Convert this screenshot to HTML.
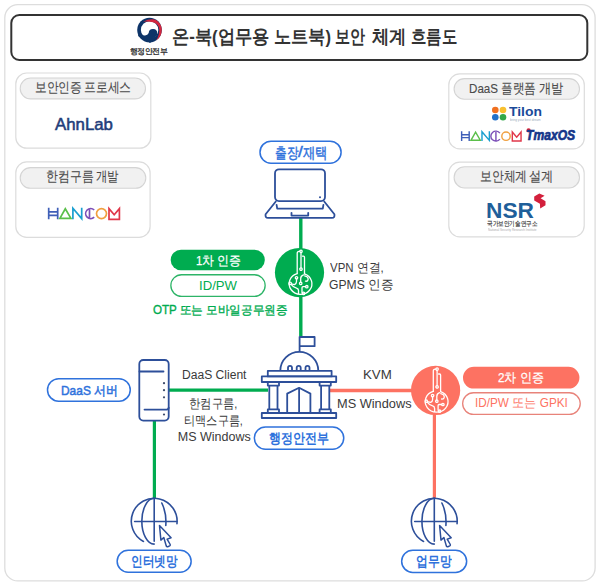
<!DOCTYPE html><html><head><meta charset="utf-8"><style>
html,body{margin:0;padding:0;background:#fff;width:600px;height:586px;overflow:hidden}
body{position:relative;font-family:"Liberation Sans",sans-serif}
.t{position:absolute;white-space:pre;line-height:1;transform-origin:0 0}
</style></head><body>
<svg width="600" height="586" viewBox="0 0 600 586" style="position:absolute;left:0;top:0">
<rect x="4.8" y="4.7" width="590.3" height="576.2" rx="13" fill="#fff" stroke="#dddddd" stroke-width="1.3"/>
<rect x="11.3" y="15" width="576" height="45" rx="8" fill="#fff" stroke="#333" stroke-width="2"/>
<circle cx="149.5" cy="30" r="12.3" fill="#0d3468"/><circle cx="149.6" cy="30" r="8.7" fill="#fff"/><path d="M143.3,21.8 Q149,18.6 154.5,19.6 Q160.5,21.5 161.8,29 Q162,36.5 156,40.6 Q159.6,35 159.2,29.5 Q158.6,23.5 153,22.2 Q148,21.2 143.3,21.8 Z" fill="#d3263e"/><path d="M140.5,30.8 A4.2,3.4 0 0 0 148.7,33 A4.3,4.3 0 1 1 153,37.5 L158,37 L150,43 L138,36 Z" fill="#0d3468"/>
<rect x="15.8" y="73" width="135" height="75.2" rx="11" fill="#fff" stroke="#dcdcdc" stroke-width="1.2"/>
<rect x="15.8" y="161.9" width="134.3" height="75.5" rx="11" fill="#fff" stroke="#dcdcdc" stroke-width="1.2"/>
<rect x="448.8" y="73.9" width="135.5" height="75" rx="11" fill="#fff" stroke="#dcdcdc" stroke-width="1.2"/>
<rect x="448.8" y="162.1" width="135.4" height="74.7" rx="11" fill="#fff" stroke="#dcdcdc" stroke-width="1.2"/>
<rect x="20.2" y="78" width="125.3" height="20.9" rx="10.45" fill="#f1f1f1" stroke="#d4d4d4" stroke-width="1.1"/>
<rect x="20.2" y="167.6" width="125.6" height="20.7" rx="10.35" fill="#f1f1f1" stroke="#d4d4d4" stroke-width="1.1"/>
<rect x="454.1" y="78.6" width="125.4" height="20.6" rx="10.3" fill="#f1f1f1" stroke="#d4d4d4" stroke-width="1.1"/>
<rect x="454.1" y="166.8" width="125.4" height="21.2" rx="10.6" fill="#f1f1f1" stroke="#d4d4d4" stroke-width="1.1"/>
<path d="M300.8,218 V336" stroke="#00ac50" stroke-width="3.4"/>
<path d="M169,390.2 H268" stroke="#00ac50" stroke-width="3.2"/>
<path d="M154.4,420 V499" stroke="#00ac50" stroke-width="3.2"/>
<path d="M330,390.5 H414" stroke="#fd7262" stroke-width="3.4"/>
<path d="M434.4,412 V499" stroke="#fd7262" stroke-width="3.2"/>
<rect x="260" y="141.15" width="81.1" height="22" rx="11.0" fill="#fff" stroke="#2f72dc" stroke-width="1.5"/>
<rect x="47.5" y="378.75" width="82.75" height="22.4" rx="11.2" fill="#fff" stroke="#2f72dc" stroke-width="1.5"/>
<rect x="254.35" y="426.9" width="89.4" height="22.3" rx="11.15" fill="#fff" stroke="#2f72dc" stroke-width="1.5"/>
<rect x="117.15" y="550.2" width="74" height="22.1" rx="11.05" fill="#fff" stroke="#2f72dc" stroke-width="1.5"/>
<rect x="401.65" y="550.2" width="65" height="22.2" rx="11.1" fill="#fff" stroke="#2f72dc" stroke-width="1.5"/>
<rect x="170.7" y="249.7" width="94.1" height="20.6" rx="10.3" fill="#00ac50"/>
<rect x="170.85" y="274.75" width="94.3" height="21.6" rx="10.8" fill="#fff" stroke="#2db467" stroke-width="1.3"/>
<rect x="463" y="366.8" width="116.4" height="21.8" rx="10.9" fill="#fd7262"/>
<rect x="462.65" y="392.75" width="117.6" height="21.7" rx="10.85" fill="#fff" stroke="#e8837a" stroke-width="1.3"/>
<g transform="translate(299.5,272.6)"><circle cx="0" cy="0" r="24.6" fill="#00ac50"/><path fill="none" stroke="#fff" stroke-width="1.3" stroke-linecap="round" stroke-linejoin="round" d="M-2.3,1 V-19.4 Q-2.3,-21.3 -0.4,-21.3 H0.3"/><circle fill="none" stroke="#fff" stroke-width="1.3" stroke-linecap="round" stroke-linejoin="round" cx="1.5" cy="-21.3" r="1.2"/><path fill="none" stroke="#fff" stroke-width="1.3" stroke-linecap="round" stroke-linejoin="round" d="M1.5,-20.1 V-4.7"/><circle fill="none" stroke="#fff" stroke-width="1.3" stroke-linecap="round" stroke-linejoin="round" cx="1.5" cy="-3.5" r="1.2"/><path fill="none" stroke="#fff" stroke-width="1.3" stroke-linecap="round" stroke-linejoin="round" d="M3,-16.4 H4 Q5,-16.4 5,-15.4 V1.2"/><path fill="none" stroke="#fff" stroke-width="1.3" stroke-linecap="round" stroke-linejoin="round" d="M-2.3,1 A11.4 10.6 0 1 0 5,1.2"/><circle fill="none" stroke="#fff" stroke-width="1.3" stroke-linecap="round" stroke-linejoin="round" cx="-3" cy="5.2" r="1.2"/><circle fill="none" stroke="#fff" stroke-width="1.3" stroke-linecap="round" stroke-linejoin="round" cx="-9.3" cy="10.8" r="1.2"/><circle fill="none" stroke="#fff" stroke-width="1.3" stroke-linecap="round" stroke-linejoin="round" cx="1.2" cy="10.8" r="1.2"/><circle fill="none" stroke="#fff" stroke-width="1.3" stroke-linecap="round" stroke-linejoin="round" cx="7.3" cy="14.1" r="1.2"/><circle fill="none" stroke="#fff" stroke-width="1.3" stroke-linecap="round" stroke-linejoin="round" cx="4" cy="20.8" r="1.2"/><path fill="none" stroke="#fff" stroke-width="1.3" stroke-linecap="round" stroke-linejoin="round" d="M-3,6.4 V9 Q-3,11 -5,12 L-8.2,11.2"/><path fill="none" stroke="#fff" stroke-width="1.3" stroke-linecap="round" stroke-linejoin="round" d="M-8.4,11.8 Q-6,15 -3,15.5 Q-1,16 -1,18 V21"/><path fill="none" stroke="#fff" stroke-width="1.3" stroke-linecap="round" stroke-linejoin="round" d="M1.2,9.6 V6 Q1.2,3 4,2.2"/><path fill="none" stroke="#fff" stroke-width="1.3" stroke-linecap="round" stroke-linejoin="round" d="M6.1,14.1 H3.5 Q2.5,14.1 2.5,15.1 V19.8"/><path fill="none" stroke="#fff" stroke-width="1.3" stroke-linecap="round" stroke-linejoin="round" d="M5.2,3.2 Q9,4 8.6,7 Q8.2,9 6,8.6"/></g>
<g transform="translate(435.6,390.4)"><circle cx="0" cy="0" r="24.6" fill="#fd7262"/><path fill="none" stroke="#fff" stroke-width="1.3" stroke-linecap="round" stroke-linejoin="round" d="M-2.3,1 V-19.4 Q-2.3,-21.3 -0.4,-21.3 H0.3"/><circle fill="none" stroke="#fff" stroke-width="1.3" stroke-linecap="round" stroke-linejoin="round" cx="1.5" cy="-21.3" r="1.2"/><path fill="none" stroke="#fff" stroke-width="1.3" stroke-linecap="round" stroke-linejoin="round" d="M1.5,-20.1 V-4.7"/><circle fill="none" stroke="#fff" stroke-width="1.3" stroke-linecap="round" stroke-linejoin="round" cx="1.5" cy="-3.5" r="1.2"/><path fill="none" stroke="#fff" stroke-width="1.3" stroke-linecap="round" stroke-linejoin="round" d="M3,-16.4 H4 Q5,-16.4 5,-15.4 V1.2"/><path fill="none" stroke="#fff" stroke-width="1.3" stroke-linecap="round" stroke-linejoin="round" d="M-2.3,1 A11.4 10.6 0 1 0 5,1.2"/><circle fill="none" stroke="#fff" stroke-width="1.3" stroke-linecap="round" stroke-linejoin="round" cx="-3" cy="5.2" r="1.2"/><circle fill="none" stroke="#fff" stroke-width="1.3" stroke-linecap="round" stroke-linejoin="round" cx="-9.3" cy="10.8" r="1.2"/><circle fill="none" stroke="#fff" stroke-width="1.3" stroke-linecap="round" stroke-linejoin="round" cx="1.2" cy="10.8" r="1.2"/><circle fill="none" stroke="#fff" stroke-width="1.3" stroke-linecap="round" stroke-linejoin="round" cx="7.3" cy="14.1" r="1.2"/><circle fill="none" stroke="#fff" stroke-width="1.3" stroke-linecap="round" stroke-linejoin="round" cx="4" cy="20.8" r="1.2"/><path fill="none" stroke="#fff" stroke-width="1.3" stroke-linecap="round" stroke-linejoin="round" d="M-3,6.4 V9 Q-3,11 -5,12 L-8.2,11.2"/><path fill="none" stroke="#fff" stroke-width="1.3" stroke-linecap="round" stroke-linejoin="round" d="M-8.4,11.8 Q-6,15 -3,15.5 Q-1,16 -1,18 V21"/><path fill="none" stroke="#fff" stroke-width="1.3" stroke-linecap="round" stroke-linejoin="round" d="M1.2,9.6 V6 Q1.2,3 4,2.2"/><path fill="none" stroke="#fff" stroke-width="1.3" stroke-linecap="round" stroke-linejoin="round" d="M6.1,14.1 H3.5 Q2.5,14.1 2.5,15.1 V19.8"/><path fill="none" stroke="#fff" stroke-width="1.3" stroke-linecap="round" stroke-linejoin="round" d="M5.2,3.2 Q9,4 8.6,7 Q8.2,9 6,8.6"/></g>
<rect x="275" y="169.3" width="50" height="31.8" rx="4" fill="none" stroke="#2d4f9a" stroke-width="1.8" stroke-linecap="round" stroke-linejoin="round"/>
<circle cx="320" cy="197.2" r="1" fill="#2d4f9a"/>
<path fill="none" stroke="#2d4f9a" stroke-width="1.8" stroke-linecap="round" stroke-linejoin="round" d="M275.8,201.5 L265.6,214.2 Q265,217.9 268,217.9 H332 Q335,217.9 334.4,214.2 L324.2,201.5"/>
<path fill="none" stroke="#2d4f9a" stroke-width="1.8" stroke-linecap="round" stroke-linejoin="round" d="M276.6,204.8 L277.2,208.6 H322.8 L323.4,204.8"/>
<path fill="none" stroke="#2d4f9a" stroke-width="1.8" stroke-linecap="round" stroke-linejoin="round" d="M291.5,212.8 V215.6 H308.2 V212.8"/>
<rect x="139.3" y="360" width="29.4" height="60.6" rx="4" fill="none" stroke="#2d4f9a" stroke-width="1.8" stroke-linecap="round" stroke-linejoin="round"/>
<path fill="none" stroke="#2d4f9a" stroke-width="1.8" stroke-linecap="round" stroke-linejoin="round" d="M144.5,409.6 H166.6 Q168.7,409.6 168.7,407.6"/>
<path fill="none" stroke="#2d4f9a" stroke-width="1.8" stroke-linecap="round" stroke-linejoin="round" d="M139.5,371.5 H163.5"/>
<circle cx="164" cy="383.2" r="1.1" fill="#3c4a6a"/>
<circle cx="164" cy="390.2" r="1.1" fill="#3c4a6a"/>
<circle cx="164" cy="397.3" r="1.1" fill="#3c4a6a"/>
<circle cx="164" cy="414.5" r="1.1" fill="#3c4a6a"/>
<path fill="none" stroke="#2d4f9a" stroke-width="1.8" stroke-linejoin="round" d="M299.6,351.5 V337 H314.6 V346.2 H299.6"/>
<path fill="none" stroke="#2d4f9a" stroke-width="1.8" stroke-linejoin="round" d="M280.3,370.8 A19 19 0 0 1 318.3,370.8"/>
<path fill="none" stroke="#2d4f9a" stroke-width="1.8" stroke-linejoin="round" d="M288,370.8 V367.8 A2 2 0 0 1 292,367.8 V370.8"/>
<path fill="none" stroke="#2d4f9a" stroke-width="1.8" stroke-linejoin="round" d="M296.7,370.8 V367.8 A2 2 0 0 1 300.7,367.8 V370.8"/>
<path fill="none" stroke="#2d4f9a" stroke-width="1.8" stroke-linejoin="round" d="M305.5,370.8 V367.8 A2 2 0 0 1 309.5,367.8 V370.8"/>
<rect x="267.8" y="370.8" width="63.8" height="5.6" fill="none" stroke="#2d4f9a" stroke-width="1.8" stroke-linejoin="round"/>
<rect x="261.8" y="376.4" width="74.4" height="5.6" fill="none" stroke="#2d4f9a" stroke-width="1.8" stroke-linejoin="round"/>
<path fill="none" stroke="#2d4f9a" stroke-width="1.8" stroke-linejoin="round" d="M267.8,382 V385.6 H269.3 V409.4 H267.8 V413 M279,382 V385.6 H277.5 V409.4 H279 V413 M267.8,385.6 H279 M267.8,409.4 H279"/>
<path fill="none" stroke="#2d4f9a" stroke-width="1.8" stroke-linejoin="round" d="M319.6,382 V385.6 H321.1 V409.4 H319.6 V413 M330.8,382 V385.6 H329.3 V409.4 H330.8 V413 M319.6,385.6 H330.8 M319.6,409.4 H330.8"/>
<path fill="none" stroke="#2d4f9a" stroke-width="1.8" stroke-linejoin="round" d="M287.2,413 V393.6 L299.1,387.8 L310.4,393.6 V413 M299.1,387.8 V413"/>
<rect x="261.8" y="413" width="74.4" height="5" fill="none" stroke="#2d4f9a" stroke-width="1.8" stroke-linejoin="round"/>
<path fill="none" stroke="#2d4f9a" stroke-width="1.6" stroke-linecap="round" stroke-linejoin="round" d="M176.97,523.59 A22.9 22.9 0 1 0 143.45,541.42"/><path fill="none" stroke="#2d4f9a" stroke-width="1.6" stroke-linecap="round" stroke-linejoin="round" d="M154.2,498.30000000000007 V541.2"/><path fill="none" stroke="#2d4f9a" stroke-width="1.6" stroke-linecap="round" stroke-linejoin="round" d="M134.6,521.5 H176.7"/><path fill="none" stroke="#2d4f9a" stroke-width="1.6" stroke-linecap="round" stroke-linejoin="round" d="M154.2,498.30000000000007 A12.4 22.9 0 0 0 154.2,544.1"/><path fill="none" stroke="#2d4f9a" stroke-width="1.6" stroke-linecap="round" stroke-linejoin="round" d="M161.79999999999998,503.00000000000006 Q166.7,513.2 165.79999999999998,525.4000000000001"/><path fill="#fff" stroke="#2d4f9a" stroke-width="1.5" stroke-linejoin="round" d="M159.5,525.5 L160.9,540.1 L163.8,537.5 L166.3,546.1 Q166.8,547.0 167.7,546.7 L169.7,545.9 Q170.5,545.4 170.2,544.5 L167.1,539.1 L171.1,537.7 Z"/>
<path fill="none" stroke="#2d4f9a" stroke-width="1.6" stroke-linecap="round" stroke-linejoin="round" d="M457.07,523.59 A22.9 22.9 0 1 0 423.55,541.42"/><path fill="none" stroke="#2d4f9a" stroke-width="1.6" stroke-linecap="round" stroke-linejoin="round" d="M434.3,498.30000000000007 V541.2"/><path fill="none" stroke="#2d4f9a" stroke-width="1.6" stroke-linecap="round" stroke-linejoin="round" d="M414.7,521.5 H456.8"/><path fill="none" stroke="#2d4f9a" stroke-width="1.6" stroke-linecap="round" stroke-linejoin="round" d="M434.3,498.30000000000007 A12.4 22.9 0 0 0 434.3,544.1"/><path fill="none" stroke="#2d4f9a" stroke-width="1.6" stroke-linecap="round" stroke-linejoin="round" d="M441.90000000000003,503.00000000000006 Q446.8,513.2 445.90000000000003,525.4000000000001"/><path fill="#fff" stroke="#2d4f9a" stroke-width="1.5" stroke-linejoin="round" d="M439.6,525.5 L441.0,540.1 L443.90000000000003,537.5 L446.40000000000003,546.1 Q446.90000000000003,547.0 447.8,546.7 L449.8,545.9 Q450.6,545.4 450.3,544.5 L447.20000000000005,539.1 L451.20000000000005,537.7 Z"/>
<g fill="none" stroke-width="1.70" stroke-linejoin="miter"><path stroke="#3f5fb8" d="M48.70,207.80 V219.30 M57.70,207.80 V219.30 M48.70,211.80 H57.70 M48.70,215.30 H57.70"/><path stroke="#5bbf4a" d="M59.90,218.40 L65.30,208.80 L70.90,218.40 Z"/><path stroke="#1a9fd0" d="M72.90,219.30 V208.30 L81.70,218.60 V207.80"/><path stroke="#7c4fb8" d="M94.20,210.00 A5 5 0 1 0 94.20,217.10 M89.50,208.60 V218.60"/><circle stroke="#f0a040" cx="101.50" cy="213.60" r="5.00"/><path stroke="#e0374a" d="M109.00,219.30 V208.60 L114.20,214.80 L119.40,208.60 V219.30 Z"/></g>
<g fill="none" stroke-width="1.43" stroke-linejoin="miter"><path stroke="#3f5fb8" d="M461.64,131.30 V140.96 M469.20,131.30 V140.96 M461.64,134.66 H469.20 M461.64,137.60 H469.20"/><path stroke="#5bbf4a" d="M471.05,140.21 L475.59,132.14 L480.29,140.21 Z"/><path stroke="#1a9fd0" d="M481.98,140.96 V131.72 L489.37,140.38 V131.30"/><path stroke="#7c4fb8" d="M499.87,133.15 A5 5 0 1 0 499.87,139.11 M495.92,131.97 V140.38"/><circle stroke="#f0a040" cx="506.01" cy="136.17" r="4.20"/><path stroke="#e0374a" d="M512.31,140.96 V131.97 L516.68,137.18 L521.05,131.97 V140.96 Z"/></g>
<circle cx="495.3" cy="110" r="3.3" fill="#f07020"/>
<circle cx="503" cy="110" r="3.3" fill="#f8c030"/>
<circle cx="495.3" cy="117.3" r="3.3" fill="#2070c8"/>
<circle cx="503" cy="117.3" r="3.3" fill="#30a848"/>
<circle cx="528.6" cy="130.4" r="2.1" fill="#e02030"/>
<path d="M539.3,193.4 L544.6,195.8 L540.6,198.3 L545.5,201.2 L545.5,205.2 L540.2,208.6 L539.9,203.8 L534.2,200.6 L534.2,196.5 Z" fill="#d3203c"/>
</svg>
<div class="t" style="left:172.29px;top:28.4px;font-size:18.5px;font-weight:700;color:#333;transform:scale(0.9076,1.0)">온-북(업무용</div>
<div class="t" style="left:273.6px;top:28.4px;font-size:18.5px;font-weight:700;color:#333;transform:scale(0.9016,1.0)">노트북)</div>
<div class="t" style="left:334.61px;top:28.4px;font-size:18.5px;font-weight:700;color:#333;transform:scale(0.7919,1.0)">보안</div>
<div class="t" style="left:371.99px;top:28.4px;font-size:18.5px;font-weight:700;color:#333;transform:scale(0.9114,1.0)">체계</div>
<div class="t" style="left:411.49px;top:28.4px;font-size:18.5px;font-weight:700;color:#333;transform:scale(0.8091,1.0)">흐름도</div>
<div class="t" style="left:130.01px;top:48.3px;font-size:30.0px;font-weight:400;color:#222;transform:scale(0.2479,0.25);-webkit-text-stroke:1.0px #222">행정안전부</div>
<div class="t" style="left:35.26px;top:81.0px;font-size:13.5px;font-weight:400;color:#4a4a4a;transform:scale(0.837,1.0);-webkit-text-stroke:0.12px #4a4a4a">보안인증</div>
<div class="t" style="left:84.16px;top:81.0px;font-size:13.5px;font-weight:400;color:#4a4a4a;transform:scale(0.8444,1.0);-webkit-text-stroke:0.12px #4a4a4a">프로세스</div>
<div class="t" style="left:45.51px;top:170.0px;font-size:13.5px;font-weight:400;color:#4a4a4a;transform:scale(0.8472,1.0);-webkit-text-stroke:0.12px #4a4a4a">한컴구름</div>
<div class="t" style="left:95.69px;top:170.0px;font-size:13.5px;font-weight:400;color:#4a4a4a;transform:scale(0.8148,1.0);-webkit-text-stroke:0.12px #4a4a4a">개발</div>
<div class="t" style="left:469.04px;top:81.6px;font-size:13.5px;font-weight:400;color:#4a4a4a;transform:scale(0.8594,1.0);-webkit-text-stroke:0.12px #4a4a4a">DaaS</div>
<div class="t" style="left:500.92px;top:81.6px;font-size:13.5px;font-weight:400;color:#4a4a4a;transform:scale(0.8313,1.0);-webkit-text-stroke:0.12px #4a4a4a">플랫폼</div>
<div class="t" style="left:538.53px;top:81.6px;font-size:13.5px;font-weight:400;color:#4a4a4a;transform:scale(0.8741,1.0);-webkit-text-stroke:0.12px #4a4a4a">개발</div>
<div class="t" style="left:480.16px;top:170.0px;font-size:13.5px;font-weight:400;color:#4a4a4a;transform:scale(0.8443,1.0);-webkit-text-stroke:0.12px #4a4a4a">보안체계</div>
<div class="t" style="left:529.03px;top:170.0px;font-size:13.5px;font-weight:400;color:#4a4a4a;transform:scale(0.868,1.0);-webkit-text-stroke:0.12px #4a4a4a">설계</div>
<div class="t" style="left:274.92px;top:145.6px;font-size:14.5px;font-weight:400;color:#2f72dc;transform:scale(0.7793,1.0);-webkit-text-stroke:0.45px #2f72dc">출장</div>
<div class="t" style="left:298.1px;top:144.75px;font-size:14.5px;font-weight:400;color:#2f72dc;transform:scale(1.2,1.0);-webkit-text-stroke:0.45px #2f72dc">/</div>
<div class="t" style="left:303.3px;top:145.6px;font-size:14.5px;font-weight:400;color:#2f72dc;transform:scale(0.8214,1.0);-webkit-text-stroke:0.45px #2f72dc">재택</div>
<div class="t" style="left:195.59px;top:255.0px;font-size:12.5px;font-weight:400;color:#fff;transform:scale(0.9149,1.0);-webkit-text-stroke:0.25px #fff">1차 인증</div>
<div class="t" style="left:199.03px;top:279.0px;font-size:13.5px;font-weight:400;color:#00ac50;transform:scale(0.9737,1.0)">ID/PW</div>
<div class="t" style="left:153.3px;top:303.7px;font-size:12.0px;font-weight:400;color:#00ac50;transform:scale(0.9667,1.0);-webkit-text-stroke:0.35px #00ac50">OTP 또는 모바일공무원증</div>
<div class="t" style="left:329.7px;top:262.1px;font-size:12.5px;font-weight:400;color:#3a3a3a;transform:scale(0.9155,1.0)">VPN 연결,</div>
<div class="t" style="left:329.33px;top:279.0px;font-size:12.5px;font-weight:400;color:#3a3a3a;transform:scale(0.9703,1.0)">GPMS 인증</div>
<div class="t" style="left:61.38px;top:383.8px;font-size:13.0px;font-weight:400;color:#2f72dc;transform:scale(0.9186,1.0);-webkit-text-stroke:0.5px #2f72dc">DaaS 서버</div>
<div class="t" style="left:181.93px;top:369.2px;font-size:12.5px;font-weight:400;color:#3a3a3a;transform:scale(0.9667,1.0)">DaaS Client</div>
<div class="t" style="left:189.43px;top:397.8px;font-size:12.5px;font-weight:400;color:#3a3a3a;transform:scale(0.8698,1.0)">한컴구름,</div>
<div class="t" style="left:184.34px;top:414.8px;font-size:12.5px;font-weight:400;color:#3a3a3a;transform:scale(0.8591,1.0)">티맥스구름,</div>
<div class="t" style="left:177.8px;top:430.9px;font-size:12.5px;font-weight:400;color:#3a3a3a;transform:scale(1.0,1.0)">MS Windows</div>
<div class="t" style="left:363.08px;top:367.6px;font-size:13.0px;font-weight:400;color:#3a3a3a;transform:scale(1.0231,1.0)">KVM</div>
<div class="t" style="left:337.32px;top:396.9px;font-size:13.0px;font-weight:400;color:#3a3a3a;transform:scale(0.9824,1.0)">MS Windows</div>
<div class="t" style="left:497.97px;top:371.9px;font-size:12.5px;font-weight:400;color:#fff;transform:scale(0.9298,1.0);-webkit-text-stroke:0.25px #fff">2차 인증</div>
<div class="t" style="left:475.16px;top:397.1px;font-size:12.5px;font-weight:400;color:#fd7262;transform:scale(0.9381,1.0)">ID/PW 또는 GPKI</div>
<div class="t" style="left:269.39px;top:431.5px;font-size:13.5px;font-weight:700;color:#2f72dc;transform:scale(0.8581,1.0)">행정안전부</div>
<div class="t" style="left:130.97px;top:554.5px;font-size:13.5px;font-weight:700;color:#2f72dc;transform:scale(0.8309,1.0)">인터넷망</div>
<div class="t" style="left:416.26px;top:555.0px;font-size:13.5px;font-weight:700;color:#2f72dc;transform:scale(0.8439,1.0)">업무망</div>
<div class="t" style="left:54.8px;top:115.7px;font-size:17.0px;font-weight:400;color:#1f3d7a;transform:scale(0.9879,1.0);-webkit-text-stroke:0.55px #1f3d7a">AhnLab</div>
<div class="t" style="left:508.8px;top:105.4px;font-size:13.5px;font-weight:700;color:#1a4a9a;transform:scale(1.029,1.0)">Tilon</div>
<div class="t" style="left:526.06px;top:127.8px;font-size:14.5px;font-weight:700;color:#15368a;transform:scale(0.8362,1.0);font-style:italic;-webkit-text-stroke:0.7px #15368a">TmaxOS</div>
<div class="t" style="left:488.0px;top:228.0px;font-size:14.4px;font-weight:400;color:#aaa;transform:scale(0.2119,0.25)">National Security Research Institute</div>
<div class="t" style="left:509.5px;top:117.6px;font-size:12.8px;font-weight:400;color:#9ab;transform:scale(0.246,0.25)">bring your best dream</div>
<div class="t" style="left:486.07px;top:200.0px;font-size:22.0px;font-weight:700;color:#1f5f9a;transform:scale(1.0311,1.0)">NSR</div>
<div class="t" style="left:486.9px;top:219.6px;font-size:28.0px;font-weight:400;color:#444;transform:scale(0.1996,0.25);-webkit-text-stroke:0.8px #444">국가보안기술연구소</div>
</body></html>
